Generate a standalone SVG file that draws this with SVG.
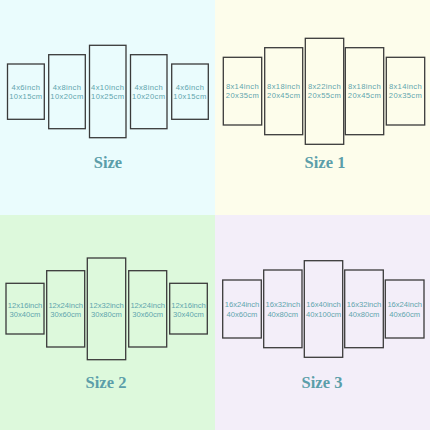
<svg xmlns="http://www.w3.org/2000/svg" width="430" height="430" viewBox="0 0 430 430">
<style>
.p{fill:none;stroke:#3a3a3a;stroke-width:1.3}
.t{font-family:"Liberation Sans",Arial,sans-serif;font-size:7.6px;fill:#5fa5ad;text-anchor:middle}
.w{letter-spacing:0.35px}
.h{font-family:"Liberation Serif","Times New Roman",serif;font-weight:bold;font-size:16.5px;fill:#5b9ea9;text-anchor:middle}
</style>
<rect x="0" y="0" width="215" height="215" fill="#eafcfd"/>
<rect x="215" y="0" width="215" height="215" fill="#fdfdeb"/>
<rect x="0" y="215" width="215" height="215" fill="#ddf9dc"/>
<rect x="215" y="215" width="215" height="215" fill="#f3eef9"/>
<g id="q1">
<g id="q1n1"><rect class="p" x="7.5" y="64" width="36.8" height="55.3"/><text class="t w" x="25.9" y="90">4x6inch</text><text class="t w" x="25.9" y="99.3">10x15cm</text></g>
<g id="q1n2"><rect class="p" x="48.7" y="54.7" width="36.6" height="74"/><text class="t w" x="67" y="90">4x8inch</text><text class="t w" x="67" y="99.3">10x20cm</text></g>
<g id="q1n3"><rect class="p" x="89.5" y="45.3" width="36.5" height="92.4"/><text class="t w" x="107.7" y="90">4x10inch</text><text class="t w" x="107.7" y="99.3">10x25cm</text></g>
<g id="q1n4"><rect class="p" x="130.5" y="54.7" width="36.5" height="74"/><text class="t w" x="148.7" y="90">4x8inch</text><text class="t w" x="148.7" y="99.3">10x20cm</text></g>
<g id="q1n5"><rect class="p" x="171.7" y="64" width="36.6" height="55.3"/><text class="t w" x="190" y="90">4x6inch</text><text class="t w" x="190" y="99.3">10x15cm</text></g>
<text class="h" x="108" y="168">Size</text>
</g>
<g id="q2">
<g id="q2n1"><rect class="p" x="223.3" y="57.3" width="38.4" height="67.7"/><text class="t w" x="242.5" y="88.7">8x14inch</text><text class="t w" x="242.5" y="98">20x35cm</text></g>
<g id="q2n2"><rect class="p" x="264.7" y="47.7" width="38" height="87"/><text class="t w" x="283.7" y="88.7">8x18inch</text><text class="t w" x="283.7" y="98">20x45cm</text></g>
<g id="q2n3"><rect class="p" x="305.3" y="38.3" width="38.4" height="106"/><text class="t w" x="324.5" y="88.7">8x22inch</text><text class="t w" x="324.5" y="98">20x55cm</text></g>
<g id="q2n4"><rect class="p" x="345.3" y="47.7" width="38.4" height="87"/><text class="t w" x="364.5" y="88.7">8x18inch</text><text class="t w" x="364.5" y="98">20x45cm</text></g>
<g id="q2n5"><rect class="p" x="386.3" y="57.3" width="38.4" height="67.7"/><text class="t w" x="405.5" y="88.7">8x14inch</text><text class="t w" x="405.5" y="98">20x35cm</text></g>
<text class="h" x="325" y="168">Size 1</text>
</g>
<g id="q3">
<g id="q3n1"><rect class="p" x="6" y="283.3" width="38" height="50.7"/><text class="t" x="25" y="307.7">12x16inch</text><text class="t" x="25" y="317">30x40cm</text></g>
<g id="q3n2"><rect class="p" x="46.7" y="270.7" width="38" height="76.3"/><text class="t" x="65.7" y="307.7">12x24inch</text><text class="t" x="65.7" y="317">30x60cm</text></g>
<g id="q3n3"><rect class="p" x="87.3" y="258" width="38.4" height="101.7"/><text class="t" x="106.5" y="307.7">12x32inch</text><text class="t" x="106.5" y="317">30x80cm</text></g>
<g id="q3n4"><rect class="p" x="128.7" y="270.7" width="38" height="76.3"/><text class="t" x="147.7" y="307.7">12x24inch</text><text class="t" x="147.7" y="317">30x60cm</text></g>
<g id="q3n5"><rect class="p" x="169.7" y="283.3" width="37.6" height="50.7"/><text class="t" x="188.5" y="307.7">12x16inch</text><text class="t" x="188.5" y="317">30x40cm</text></g>
<text class="h" x="106" y="388">Size 2</text>
</g>
<g id="q4">
<g id="q4n1"><rect class="p" x="222.7" y="280" width="38.6" height="58"/><text class="t" x="242" y="307">16x24inch</text><text class="t" x="242" y="316.5">40x60cm</text></g>
<g id="q4n2"><rect class="p" x="263.7" y="270" width="38.3" height="77.7"/><text class="t" x="282.8" y="307">16x32inch</text><text class="t" x="282.8" y="316.5">40x80cm</text></g>
<g id="q4n3"><rect class="p" x="304.3" y="260.7" width="38.4" height="96.6"/><text class="t" x="323.5" y="307">16x40inch</text><text class="t" x="323.5" y="316.5">40x100cm</text></g>
<g id="q4n4"><rect class="p" x="344.7" y="270" width="38.6" height="77.7"/><text class="t" x="364" y="307">16x32inch</text><text class="t" x="364" y="316.5">40x80cm</text></g>
<g id="q4n5"><rect class="p" x="385.3" y="280" width="38.7" height="58"/><text class="t" x="404.7" y="307">16x24inch</text><text class="t" x="404.7" y="316.5">40x60cm</text></g>
<text class="h" x="322" y="388">Size 3</text>
</g>
</svg>
